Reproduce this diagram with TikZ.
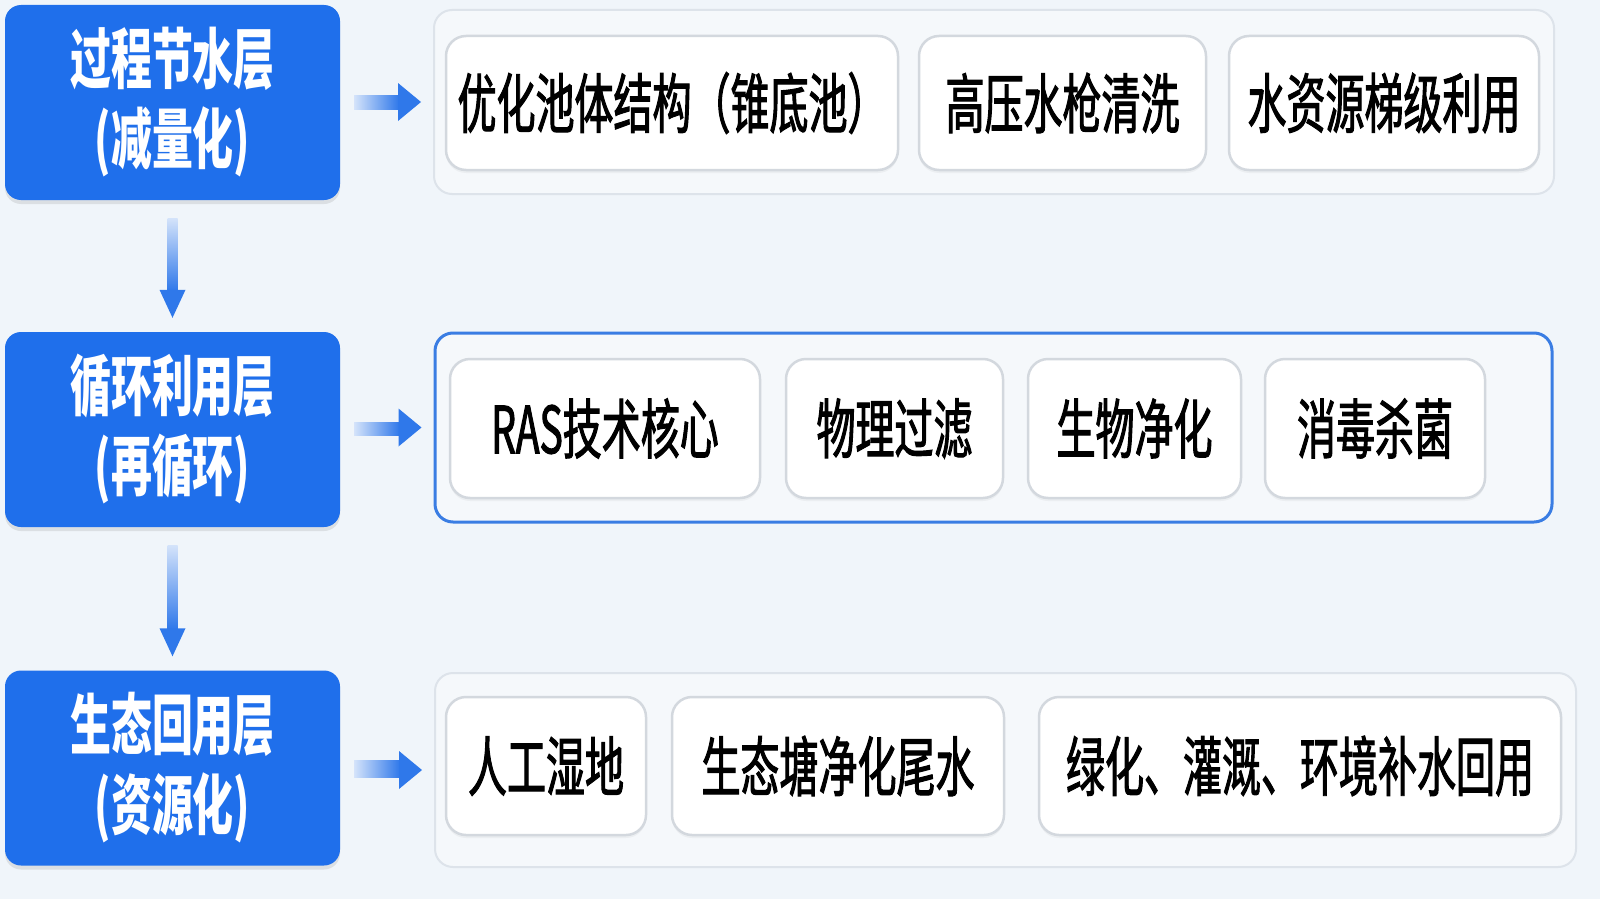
\documentclass[tikz,border=0pt]{standalone}
\usepackage{fontspec}
\setmainfont{Noto Sans CJK SC}
\newfontfamily\itemfont[FakeStretch=0.6,FakeBold=1.5]{Noto Sans CJK SC}
\newfontfamily\layerfont[FakeStretch=0.62]{Noto Sans CJK SC}
\usetikzlibrary{calc,shadows}
\definecolor{bgc}{HTML}{F0F5FA}
\definecolor{layerblue}{HTML}{1F6FEB}
\definecolor{arrowblue}{HTML}{2F78EA}
\definecolor{arrowlight}{HTML}{D4E3FA}
\definecolor{contline}{HTML}{DDE3EA}
\definecolor{contfill}{HTML}{F5F8FB}
\definecolor{itemline}{HTML}{D3D8DE}
\definecolor{hiline}{HTML}{3A7DE3}
\tikzset{
  layerbox/.style={rectangle, rounded corners=16pt, fill=layerblue, text=white,
    minimum width=335pt, minimum height=195pt, align=center,
    font=\layerfont\fontsize{66}{80}\selectfont\bfseries,
    drop shadow={opacity=0.18, shadow xshift=0pt, shadow yshift=-4pt}},
  contbox/.style={rectangle, rounded corners=18pt, fill=contfill, draw=contline, line width=2pt},
  conthi/.style={rectangle, rounded corners=18pt, fill=contfill, draw=hiline, line width=3pt},
  itembox/.style={rectangle, rounded corners=20pt, fill=white, draw=itemline, line width=2.5pt,
    font=\itemfont\fontsize{65}{70}\selectfont, text=black,
    drop shadow={opacity=0.08, shadow xshift=0pt, shadow yshift=-3pt}},
}
\newcommand{\harrowfrom}[2]{%
  \shade[left color=arrowlight, right color=arrowblue] ($(#1.east)+(14,-7.5)$) rectangle ($(#2.west)+(-34,7.5)$);
  \fill[arrowblue] ($(#2.west)+(-35,-19)$) -- ($(#2.west)+(-12,0)$) -- ($(#2.west)+(-35,19)$) -- cycle;}
\newcommand{\varrowfrom}[2]{%
  \shade[top color=arrowlight, bottom color=arrowblue] ($(#1.south)+(-5,18)$) rectangle ($(#2.north)+(5,-41)$);
  \fill[arrowblue] ($(#2.north)+(-13,-42)$) -- ($(#2.north)+(0,-14)$) -- ($(#2.north)+(13,-42)$) -- cycle;}
\begin{document}
\begin{tikzpicture}[x=1pt,y=-1pt]
\useasboundingbox (0,0) rectangle (1600,899);
\fill[bgc] (0,0) rectangle (1600,899);

% layer boxes
\node[layerbox] (L1) at (172.5,102.5) {过程节水层\\(减量化)};
\node[layerbox] (L2) at (172.5,429.5) {循环利用层\\(再循环)};
\node[layerbox] (L3) at (172.5,768) {生态回用层\\(资源化)};

% containers
\node[contbox, minimum width=1120pt, minimum height=184pt] (C1) at (994,102) {};
\node[conthi, minimum width=1117pt, minimum height=189pt] (C2) at (993.5,427.5) {};
\node[contbox, minimum width=1141pt, minimum height=194pt] (C3) at (1005.5,770) {};

% row 1 items
\node[itembox, minimum width=452pt, minimum height=134pt] (a1) at (672,103) {优化池体结构（锥底池）};
\node[itembox, minimum width=287pt, minimum height=134pt] (a2) at (1062.5,103) {高压水枪清洗};
\node[itembox, minimum width=310pt, minimum height=134pt] (a3) at (1384,103) {水资源梯级利用};

% row 2 items
\node[itembox, minimum width=310pt, minimum height=139pt] (b1) at (605,428.5) {RAS技术核心};
\node[itembox, minimum width=217pt, minimum height=139pt] (b2) at (894.5,428.5) {物理过滤};
\node[itembox, minimum width=213pt, minimum height=139pt] (b3) at (1134.5,428.5) {生物净化};
\node[itembox, minimum width=220pt, minimum height=139pt] (b4) at (1375,428.5) {消毒杀菌};

% row 3 items
\node[itembox, minimum width=200pt, minimum height=138pt] (c1) at (546,766) {人工湿地};
\node[itembox, minimum width=332pt, minimum height=138pt] (c2) at (838,766) {生态塘净化尾水};
\node[itembox, minimum width=522pt, minimum height=138pt] (c3) at (1300,766) {绿化、灌溉、环境补水回用};

% arrows
\harrowfrom{L1}{C1}
\harrowfrom{L2}{C2}
\harrowfrom{L3}{C3}
\varrowfrom{L1}{L2}
\varrowfrom{L2}{L3}
\end{tikzpicture}
\end{document}
